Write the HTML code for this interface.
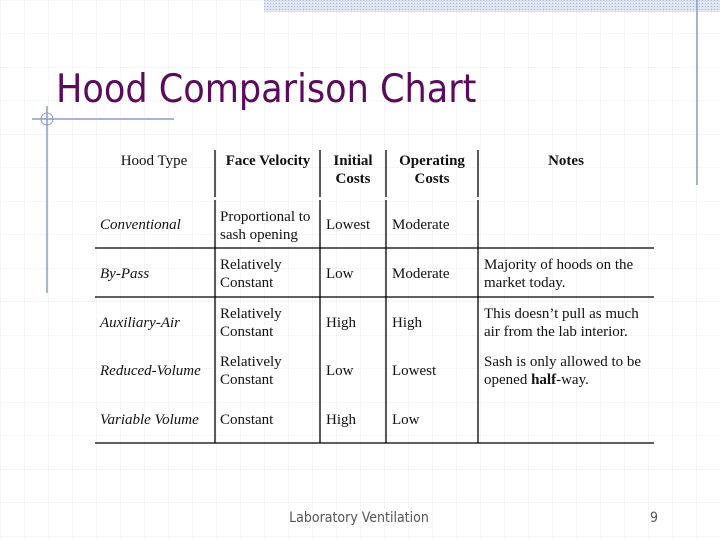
<!DOCTYPE html>
<html><head><meta charset="utf-8"><style>
html,body{margin:0;padding:0;background:#fff}
svg{display:block}
.c{font-family:"Liberation Serif",serif;font-size:15px;fill:#111}
.h{font-weight:bold;text-anchor:middle}
.i{font-style:italic}
</style></head><body>
<svg width="720" height="540" viewBox="0 0 720 540">
<defs>
<pattern id="g" width="24" height="33.5" patternUnits="userSpaceOnUse">
<path d="M0 0V33.5M0 0H24" stroke="#dcdcdc" stroke-width="1" stroke-dasharray="1 1" fill="none"/>
</pattern>
<pattern id="b" width="3" height="3" patternUnits="userSpaceOnUse">
<rect width="3" height="3" fill="#dfe6f2"/><rect width="1" height="1" fill="#a9bad8"/>
</pattern>
</defs>
<rect width="720" height="540" fill="url(#g)"/>
<rect x="264" y="0" width="456" height="12" fill="url(#b)"/>
<line x1="697" y1="0" x2="697" y2="185" stroke="#8a9cc6" stroke-width="1.5"/>
<line x1="32" y1="119" x2="174" y2="119" stroke="#8a9cc6" stroke-width="1.5"/>
<line x1="47" y1="106" x2="47" y2="293" stroke="#8a9cc6" stroke-width="1.5"/>
<circle cx="47" cy="119" r="6" fill="none" stroke="#8a9cc6" stroke-width="1"/>
<text x="56" y="102" font-family="'DejaVu Sans Condensed','Liberation Sans',sans-serif" font-size="39" fill="#5c0a5e">Hood Comparison Chart</text>

<g stroke="#000" stroke-width="1.3">
<line x1="95" y1="248" x2="654" y2="248"/>
<line x1="95" y1="297" x2="654" y2="297"/>
<line x1="95" y1="443" x2="654" y2="443"/>
<line x1="215" y1="150" x2="215" y2="197"/><line x1="215" y1="200" x2="215" y2="443"/>
<line x1="320" y1="150" x2="320" y2="197"/><line x1="320" y1="200" x2="320" y2="443"/>
<line x1="386" y1="150" x2="386" y2="197"/><line x1="386" y1="200" x2="386" y2="443"/>
<line x1="478" y1="150" x2="478" y2="197"/><line x1="478" y1="200" x2="478" y2="443"/>
</g>

<g class="c">
<text x="154" y="165" text-anchor="middle">Hood Type</text>
<text class="h" x="268" y="165">Face Velocity</text>
<text class="h" x="353" y="165">Initial</text><text class="h" x="353" y="183">Costs</text>
<text class="h" x="432" y="165">Operating</text><text class="h" x="432" y="183">Costs</text>
<text class="h" x="566" y="165">Notes</text>
</g>
<g class="c">
<text class="i" x="100" y="229">Conventional</text>
<text x="220" y="221">Proportional to</text><text x="220" y="239">sash opening</text>
<text x="326" y="229">Lowest</text><text x="392" y="229">Moderate</text>

<text class="i" x="100" y="278">By-Pass</text>
<text x="220" y="269">Relatively</text><text x="220" y="287">Constant</text>
<text x="326" y="278">Low</text><text x="392" y="278">Moderate</text>
<text x="484" y="269">Majority of hoods on the</text><text x="484" y="287">market today.</text>

<text class="i" x="100" y="327">Auxiliary-Air</text>
<text x="220" y="318">Relatively</text><text x="220" y="336">Constant</text>
<text x="326" y="327">High</text><text x="392" y="327">High</text>
<text x="484" y="318">This doesn’t pull as much</text><text x="484" y="336">air from the lab interior.</text>

<text class="i" x="100" y="375">Reduced-Volume</text>
<text x="220" y="366">Relatively</text><text x="220" y="384">Constant</text>
<text x="326" y="375">Low</text><text x="392" y="375">Lowest</text>
<text x="484" y="366">Sash is only allowed to be</text><text x="484" y="384">opened <tspan font-weight="bold">half</tspan>-way.</text>

<text class="i" x="100" y="424">Variable Volume</text>
<text x="220" y="424">Constant</text>
<text x="326" y="424">High</text><text x="392" y="424">Low</text>
</g>
<text x="359" y="522" text-anchor="middle" font-family="'DejaVu Sans Condensed','Liberation Sans',sans-serif" font-size="14" fill="#555">Laboratory Ventilation</text>
<text x="654" y="522" text-anchor="middle" font-family="'DejaVu Sans Condensed','Liberation Sans',sans-serif" font-size="14" fill="#555">9</text>
</svg>
</body></html>
